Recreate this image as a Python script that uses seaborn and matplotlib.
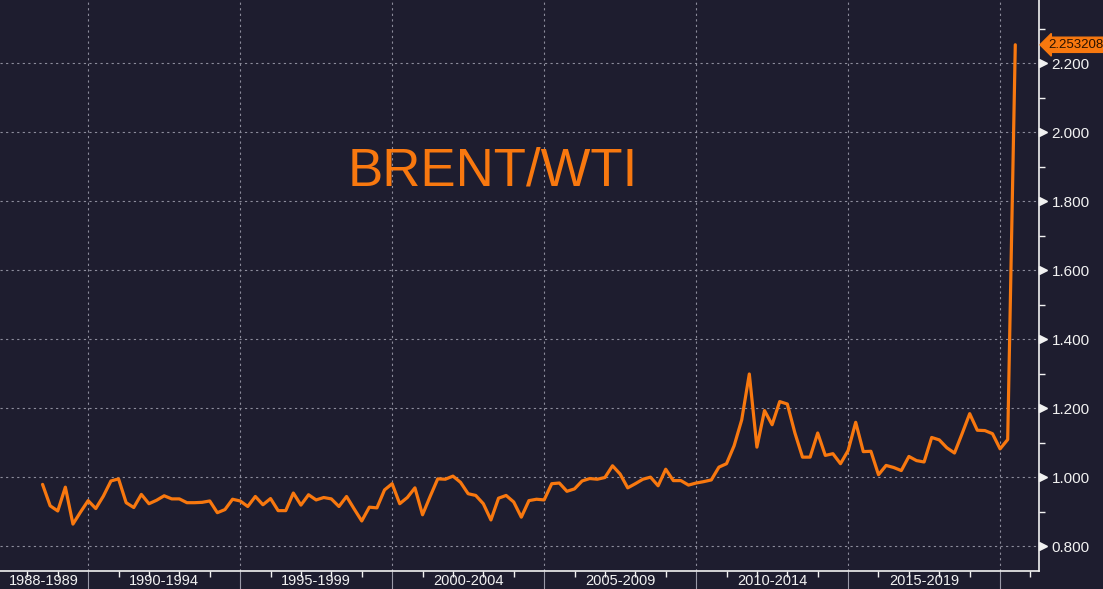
#!/usr/bin/env python
# -*- coding: utf-8 -*-

"""
Ratio trimestriel BRENT/WTI (style terminal sombre).
"""

import pandas as pd
import numpy as np
import matplotlib
matplotlib.use("Agg")
import matplotlib.pyplot as plt
import matplotlib.transforms as mtransforms
from matplotlib.ticker import FixedLocator, MultipleLocator
import seaborn as sns

# Valeurs du ratio, par trimestre
ratio_1988_1989 = [0.979, 0.917, 0.902, 0.971, 0.864, 0.899]
ratio_1990_1994 = [0.932, 0.909, 0.945, 0.989, 0.995, 0.926, 0.912, 0.950, 0.923, 0.933,
                   0.946, 0.937, 0.937, 0.926, 0.926, 0.927, 0.931, 0.897, 0.906, 0.936]
ratio_1995_1999 = [0.931, 0.915, 0.944, 0.920, 0.938, 0.903, 0.903, 0.954, 0.919, 0.949,
                   0.934, 0.941, 0.937, 0.915, 0.944, 0.908, 0.873, 0.913, 0.911, 0.963]
ratio_2000_2004 = [0.981, 0.923, 0.941, 0.969, 0.891, 0.944, 0.995, 0.994, 1.003, 0.985,
                   0.952, 0.947, 0.923, 0.876, 0.939, 0.947, 0.928, 0.884, 0.932, 0.936]
ratio_2005_2009 = [0.934, 0.981, 0.983, 0.959, 0.966, 0.989, 0.996, 0.994, 0.999, 1.033,
                   1.009, 0.969, 0.981, 0.994, 1.000, 0.975, 1.023, 0.990, 0.990, 0.977]
ratio_2010_2014 = [0.983, 0.987, 0.992, 1.029, 1.039, 1.091, 1.166, 1.299, 1.087, 1.193,
                   1.152, 1.219, 1.212, 1.128, 1.058, 1.058, 1.128, 1.063, 1.068, 1.039]
ratio_2015_2019 = [1.077, 1.159, 1.074, 1.075, 1.007, 1.034, 1.028, 1.019, 1.060, 1.048,
                   1.044, 1.115, 1.108, 1.085, 1.070, 1.126, 1.184, 1.136, 1.135, 1.126]
ratio_2020 = [1.082, 1.109, 2.253208]

first_quarter = "1988Q3"
period_labels = ["1988-1989", "1990-1994", "1995-1999", "2000-2004",
                 "2005-2009", "2010-2014", "2015-2019"]
title_text = "BRENT/WTI"

# Couleurs
BG = "#1e1d2f"
ORANGE = "#f8780f"
GRID = "#8c8c9c"
WHITE = "#f2f2f2"


def build_frame():
    values = (ratio_1988_1989 + ratio_1990_1994 + ratio_1995_1999 + ratio_2000_2004
              + ratio_2005_2009 + ratio_2010_2014 + ratio_2015_2019 + ratio_2020)
    quarters = pd.period_range(first_quarter, periods=len(values), freq="Q")
    df = pd.DataFrame({
        "date": quarters.year + (quarters.quarter - 1) / 4.0,
        "ratio": values,
    })
    return df


def main():
    df = build_frame()

    sns.set_style("dark", {"axes.facecolor": BG, "figure.facecolor": BG})
    plt.rcParams["font.family"] = ["Liberation Sans", "DejaVu Sans"]

    fig = plt.figure(figsize=(11.03, 5.89), dpi=100, facecolor=BG)
    ax = fig.add_axes([0.0, 18 / 589, 1039 / 1103, 571 / 589])
    ax.set_facecolor(BG)

    sns.lineplot(data=df, x="date", y="ratio", ax=ax, color=ORANGE, linewidth=2.3)

    ax.set_xlim(1987.1, 2021.28)
    ax.set_ylim(0.728, 2.383)
    ax.set_xlabel("")
    ax.set_ylabel("")

    # Axe Y à droite
    ax.yaxis.tick_right()
    yticks = np.arange(0.8, 2.21, 0.2)
    ax.set_yticks(yticks)
    ax.set_yticklabels([f"{v:.3f}" for v in yticks])
    ax.yaxis.set_minor_locator(MultipleLocator(0.1))
    ax.tick_params(axis="y", which="major", length=0, pad=9, labelsize=11, labelcolor=WHITE)
    ax.tick_params(axis="y", which="minor", right=True, direction="out", length=4,
                   width=1, color=WHITE)

    # Petits triangles sur les graduations majeures
    offset = mtransforms.ScaledTranslation(4 / 100, 0, fig.dpi_scale_trans)
    trans = mtransforms.blended_transform_factory(ax.transAxes, ax.transData) + offset
    ax.plot([1.0] * len(yticks), yticks, linestyle="none", marker=">", markersize=6,
            color=WHITE, transform=trans, clip_on=False)

    # Axe X : séparateurs tous les 5 ans, petites graduations annuelles
    bounds = list(range(1990, 2021, 5))
    ax.xaxis.set_major_locator(FixedLocator(bounds))
    ax.xaxis.set_minor_locator(MultipleLocator(1))
    ax.set_xticklabels([])
    ax.tick_params(axis="x", which="major", direction="out", length=19, width=0.8,
                   color="#9a9aa8", bottom=True)
    ax.tick_params(axis="x", which="minor", direction="out", length=4, width=1,
                   color=WHITE, bottom=True)

    # Étiquettes des périodes centrées entre séparateurs
    left = ax.get_xlim()[0]
    edges = [left] + bounds
    centers = [(a + b) / 2 for a, b in zip(edges[:-1], edges[1:])]
    sec = ax.secondary_xaxis("bottom")
    sec.set_xticks(centers)
    sec.set_xticklabels(period_labels)
    sec.tick_params(length=0, pad=2, labelsize=10.5, labelcolor=WHITE)
    sec.spines["bottom"].set_visible(False)

    # Grille pointillée
    ax.grid(True, which="major", axis="both", color=GRID, linestyle=(0, (2, 3)),
            linewidth=0.8)

    for side in ["left", "top"]:
        ax.spines[side].set_visible(False)
    for side in ["right", "bottom"]:
        ax.spines[side].set_visible(True)
        ax.spines[side].set_color(WHITE)
        ax.spines[side].set_linewidth(1.2)

    # Titre dans le graphique
    ax.text(0.4745, 0.70, title_text, transform=ax.transAxes, ha="center", va="center",
            fontsize=38, color=ORANGE)

    # Étiquette de la dernière valeur
    last = df["ratio"].iloc[-1]
    flag_trans = mtransforms.blended_transform_factory(ax.transAxes, ax.transData) + \
        mtransforms.ScaledTranslation(9 / 100, 0, fig.dpi_scale_trans)
    ax.text(1.0, last, f"{last:.6f}", transform=flag_trans, ha="left", va="center",
            fontsize=9.5, color="#2a1200",
            bbox=dict(boxstyle="larrow,pad=0.12", facecolor=ORANGE, edgecolor=ORANGE),
            clip_on=False)

    fig.savefig("out.png", dpi=100, facecolor=BG)
    plt.close(fig)


if __name__ == "__main__":
    main()
